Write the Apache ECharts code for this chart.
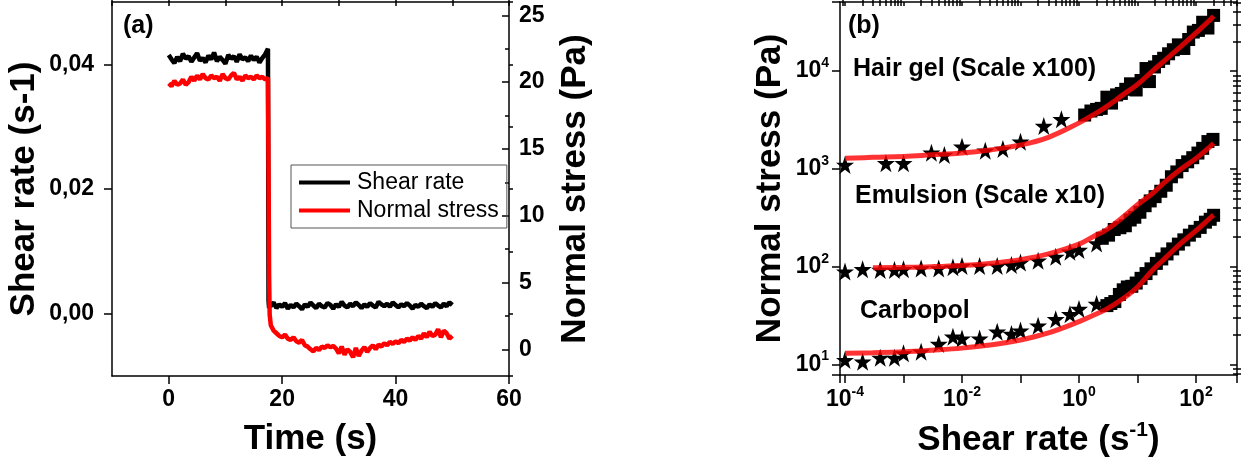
<!DOCTYPE html>
<html>
<head>
<meta charset="utf-8">
<script src="https://cdn.jsdelivr.net/npm/echarts@6/dist/echarts.min.js"></script>
<style>
  html, body { margin: 0; padding: 0; background: #fff; }
  #chart { width: 1256px; height: 473px; }
</style>
</head>
<body>
<div id="chart"></div>
<script>
// (a) 时间序列: 剪切速率 + 法向应力
var time = [0, 0.5, 1, 1.5, 2, 2.5, 3, 3.5, 4, 4.5, 5, 5.5, 6, 6.5, 7, 7.5, 8, 8.5, 9, 9.5, 10, 10.5, 11, 11.5, 12, 12.5, 13, 13.5, 14, 14.5, 15, 15.5, 16, 16.5, 17, 17.5,
  17.6, 17.7, 17.8,
  18, 18.5, 19, 19.5, 20, 20.5, 21, 21.5, 22, 22.5, 23, 23.5, 24, 24.5, 25, 25.5, 26, 26.5, 27, 27.5, 28, 28.5, 29, 29.5, 30, 30.5, 31, 31.5, 32, 32.5,
  33, 33.5, 34, 34.5, 35, 35.5, 36, 36.5, 37, 37.5, 38, 38.5, 39, 39.5, 40, 40.5, 41, 41.5, 42, 42.5, 43, 43.5, 44, 44.5, 45, 45.5, 46, 46.5, 47, 47.5,
  48, 48.5, 49, 49.5, 50]
var shearRate = [0.0415, 0.0408, 0.0402, 0.0412, 0.0405, 0.0417, 0.0409, 0.0413, 0.0404, 0.0411, 0.0418, 0.0406, 0.0410, 0.0403, 0.0414, 0.0408, 0.0419, 0.0405,
  0.0412, 0.0407, 0.0401, 0.0415, 0.0409, 0.0413, 0.0404, 0.0416, 0.0408, 0.0411, 0.0405, 0.0414, 0.0407, 0.0412, 0.0403, 0.0410, 0.0416, 0.0425,
  0.0021, 0.0009, 0.0016,
  0.0012, 0.0018, 0.0009, 0.0015, 0.0011, 0.0017, 0.0008, 0.0014, 0.0010, 0.0016,
  0.0012, 0.0007, 0.0015, 0.0011, 0.0018, 0.0013, 0.0009, 0.0016, 0.0012, 0.0010,
  0.0017, 0.0014, 0.0008, 0.0015, 0.0011, 0.0019, 0.0013, 0.0010, 0.0016, 0.0012,
  0.0018, 0.0014, 0.0009, 0.0015, 0.0011, 0.0017, 0.0013, 0.0010, 0.0019, 0.0015,
  0.0012, 0.0016, 0.0011, 0.0018, 0.0014, 0.0010, 0.0015, 0.0012, 0.0017, 0.0013,
  0.0008, 0.0014, 0.0011, 0.0016, 0.0012, 0.0009, 0.0015, 0.0011, 0.0017, 0.0013,
  0.0010, 0.0016, 0.0012, 0.0018, 0.0014]
var normalStress = [19.9, 19.7, 20.1, 19.8, 19.9, 20.2, 19.8, 20.0, 20.4, 20.1, 20.5, 20.2, 20.6, 20.3, 20.2, 20.5, 20.3, 20.4,
  20.1, 20.6, 20.3, 20.2, 20.5, 20.7, 20.2, 20.4, 20.1, 20.5, 20.3, 20.4, 20.2, 20.5, 20.3, 20.4, 20.2, 20.3,
  13.5, 5.5, 2.6,
  1.8, 1.4, 1.2, 1.0, 0.9, 1.1, 0.8, 0.7, 0.9, 0.6,
  0.5, 0.7, 0.3, 0.2, 0.0, -0.15, 0.1, -0.05, 0.2, 0.1,
  0.3, 0.15, 0.25, 0.05, -0.3, 0.2, -0.4, 0.0, -0.2, -0.6,
  0.1, -0.5, -0.1, 0.15, -0.2, 0.1, 0.3, 0.0, 0.35, 0.2,
  0.45, 0.3, 0.55, 0.4, 0.6, 0.45, 0.7, 0.55, 0.8, 0.65,
  0.9, 0.7, 1.0, 0.8, 1.2, 0.9, 1.3, 1.0, 1.1, 1.5,
  0.9, 1.4, 1.2, 0.8, 1.0]

// (b) 流动曲线: 星号(低剪切) 方块(高剪切) 红线(拟合)
var starRate = [1e-4, 2e-4, 4e-4, 7e-4, 1e-3, 2e-3, 4e-3, 7e-3, 1e-2, 2e-2, 4e-2, 7e-2, 0.1, 0.2, 0.4, 0.7, 1, 2]
var carbopolStar = [11.1, 10.7, 11.7, 11.7, 13.0, 13.5, 16.2, 19.2, 18.4, 18.4, 21.6, 20.5, 22.2, 24.9, 29.0, 32.6, 36.9, 41.5]
var emulsionStar = [89, 94, 92.5, 92.5, 94, 96, 96, 98.5, 101.5, 101.5, 101.5, 104, 110, 115, 126, 142, 148, 173]
var hairGelStarRate = [1e-4, 5e-4, 1e-3, 3e-3, 5e-3, 1e-2, 2.5e-2, 5e-2, 0.1, 0.25, 0.5]
var hairGelStar = [1095, 1140, 1140, 1460, 1385, 1680, 1530, 1595, 1890, 2740, 3210]

var carbopolSqRate = [3.0, 3.5, 4.1, 4.9, 5.7, 6.7, 8, 9.5, 11.5, 14, 17, 21, 26, 32, 40, 50, 62, 77, 95, 118, 145, 175, 200]
var carbopolSq = [40, 42, 44, 52, 58, 62, 63, 68, 76, 85, 95, 108, 120, 135, 152, 170, 188, 210, 230, 252, 285, 305, 335]
var emulsionSqRate = [2.5, 3.2, 4.0, 5.0, 6.2, 7.5, 9, 11, 13.5, 16.5, 20, 25, 31, 38, 47, 58, 72, 88, 108, 130, 160, 195]
var emulsionSq = [195, 210, 240, 250, 262, 300, 320, 360, 420, 470, 520, 590, 680, 830, 930, 1080, 1180, 1300, 1450, 1620, 1900, 2000]
var hairGelSqRate = [1.25, 1.6, 2.0, 2.4, 3.0, 3.6, 4.4, 5.3, 6.3, 7.6, 9.5, 11.5, 14, 16, 19.5, 23, 28, 34, 41, 50, 62, 75, 90, 110, 130, 160, 200]
var hairGelSq = [3550, 3900, 4050, 4150, 5400, 4700, 5700, 5900, 6500, 7400, 6400, 8000, 10600, 7800, 11000, 12500, 13500, 15000, 16500, 18500, 17000, 21000, 25000, 26000, 31500, 27500, 37000]

var fitRate = [1e-4, 3e-4, 1e-3, 3e-3, 1e-2, 3e-2, 0.1, 0.3, 1, 1.8, 3, 5.6, 10, 18, 30, 56, 100, 180, 200]
var carbopolFit = [13.0, 13.2, 13.5, 14.0, 14.7, 15.8, 17.8, 21, 27.4, 32, 37, 47, 62, 92, 123, 175, 233, 320, 337]
var emulsionFit = [null, 97.5, 98.5, 100, 103, 108, 118, 135, 170, 205, 240, 320, 430, 560, 740, 1000, 1280, 1720, 1830]
var hairGelFit = [1280, 1310, 1340, 1390, 1450, 1560, 1750, 2100, 2950, 3600, 4350, 5700, 7300, 10000, 13000, 18000, 24500, 34000, 36500]

var FONT = '"Liberation Sans", Arial, sans-serif'
var STAR = 'path://M50,0L61.8,35.1L98.9,35.1L69.1,57.3L80.3,92.7L50,71L19.7,92.7L30.9,57.3L1.1,35.1L38.2,35.1Z'

function pairs(xs, ys) {
  var out = []
  xs.forEach(function (x, i) {
    if (ys[i] != null) out.push([x, ys[i]])
  })
  return out
}

// 对数轴的次刻度(2..9), 在 log10 空间里
function minorLog(lo, hi) {
  var v = []
  for (var d = Math.floor(lo) - 1; d <= Math.ceil(hi); d++) {
    for (var k = 2; k <= 9; k++) {
      var p = d + Math.log10(k)
      if (p > lo && p < hi) v.push(p)
    }
  }
  return v
}
function majorLog(lo, hi) {
  var v = []
  for (var d = Math.ceil(lo); d <= Math.floor(hi); d++) v.push(d)
  return v
}

function powLabel(v, evenOnly) {
  var l = Math.log10(v)
  var e = Math.round(l)
  if (Math.abs(l - e) > 1e-6) return ''
  if (evenOnly && e % 2 !== 0) return ''
  return '{b|10}{s|' + e + '}'
}

var line = { show: true, onZero: false, lineStyle: { color: '#000', width: 1.5 } }
var noLine = { show: false, onZero: false }
var noLabel = { show: false }
var noSplit = { show: false }
function tick(len, inside, values) {
  var t = { show: true, length: len, inside: !!inside, lineStyle: { color: '#000', width: 1.5 } }
  if (values) t.customValues = values
  return t
}
var labelText = { color: '#000', fontFamily: FONT, fontWeight: 'bold', fontSize: 23 }
var nameText = { color: '#000', fontFamily: FONT, fontWeight: 'bold', fontSize: 35 }
var powRich = {
  b: { fontFamily: FONT, fontWeight: 'bold', fontSize: 23, color: '#000', lineHeight: 30 },
  s: { fontFamily: FONT, fontWeight: 'bold', fontSize: 14, color: '#000', lineHeight: 15, verticalAlign: 'top' }
}

// 对数范围 (b)
var xLo = -4.0855, xHi = 2.701
var yLo = 0.8927, yHi = 4.7054

var chart = echarts.init(document.getElementById('chart'), null, { renderer: 'canvas' })

var option = {
  animation: false,
  backgroundColor: '#fff',
  grid: [
    { left: 112, top: 2, width: 397, height: 374 },
    { left: 840, top: 2, width: 397, height: 373 }
  ],
  legend: {
    data: [
      { name: 'Shear rate', icon: 'rect' },
      { name: 'Normal stress', icon: 'rect' }
    ],
    orient: 'vertical',
    left: 291,
    top: 165,
    itemWidth: 51,
    itemHeight: 4,
    itemGap: 5,
    padding: [6, 8, 6, 8],
    borderColor: '#555',
    borderWidth: 1,
    borderRadius: 0,
    textStyle: { color: '#000', fontFamily: FONT, fontSize: 23, padding: [0, 0, 0, 2] }
  },
  xAxis: [
    {
      gridIndex: 0, type: 'value', min: -10, max: 60, interval: 10,
      axisLine: line, axisTick: tick(8, false, [0, 20, 40, 60]), splitLine: noSplit,
      axisLabel: Object.assign({ customValues: [0, 20, 40, 60], margin: 12 }, labelText),
      name: 'Time (s)', nameLocation: 'middle', nameGap: 46, nameTextStyle: nameText
    },
    {
      gridIndex: 0, type: 'value', min: -10, max: 60, interval: 10,
      axisLine: noLine, axisTick: tick(4), axisLabel: noLabel, splitLine: noSplit
    },
    {
      gridIndex: 0, type: 'value', position: 'top', min: -10, max: 60, interval: 10,
      axisLine: line, axisTick: tick(4, true), axisLabel: noLabel, splitLine: noSplit
    },
    {
      gridIndex: 1, type: 'log', min: Math.pow(10, xLo), max: Math.pow(10, xHi),
      axisLine: line, axisTick: tick(8), splitLine: noSplit,
      axisLabel: { margin: 10, formatter: function (v) { return powLabel(v, true) }, rich: powRich },
      name: '{t|Shear rate (s}{u|-1}{t|)}', nameLocation: 'middle', nameGap: 45,
      nameTextStyle: {
        rich: {
          t: { color: '#000', fontFamily: FONT, fontWeight: 'bold', fontSize: 35, lineHeight: 40 },
          u: { color: '#000', fontFamily: FONT, fontWeight: 'bold', fontSize: 21, lineHeight: 24, verticalAlign: 'top' }
        }
      }
    },
    {
      gridIndex: 1, type: 'value', min: xLo, max: xHi,
      axisLine: noLine, axisTick: tick(4, false, minorLog(xLo, xHi)), axisLabel: noLabel, splitLine: noSplit
    },
    {
      gridIndex: 1, type: 'value', position: 'top', min: xLo, max: xHi,
      axisLine: line, axisTick: tick(4, true, minorLog(xLo, xHi).concat(majorLog(xLo, xHi))), axisLabel: noLabel, splitLine: noSplit
    }
  ],
  yAxis: [
    {
      gridIndex: 0, type: 'value', min: -0.01, max: 0.05, interval: 0.01,
      axisLine: line, axisTick: tick(8, false, [0, 0.02, 0.04]), splitLine: noSplit,
      axisLabel: Object.assign({
        customValues: [0, 0.02, 0.04], margin: 18,
        formatter: function (v) { return v.toFixed(2).replace('.', ',') }
      }, labelText),
      name: 'Shear rate (s-1)', nameLocation: 'middle', nameGap: 70, nameTextStyle: nameText
    },
    {
      gridIndex: 0, type: 'value', min: -0.01, max: 0.05, interval: 0.01,
      axisLine: noLine, axisTick: tick(4), axisLabel: noLabel, splitLine: noSplit
    },
    {
      gridIndex: 0, type: 'value', position: 'right', min: -2, max: 26,
      axisLine: line, axisTick: tick(7, true, [0, 5, 10, 15, 20, 25]), splitLine: noSplit,
      axisLabel: Object.assign({ customValues: [0, 5, 10, 15, 20, 25], margin: 10 }, labelText),
      name: 'Normal stress (Pa)', nameLocation: 'middle', nameGap: 49, nameRotate: 90, nameTextStyle: nameText
    },
    {
      gridIndex: 0, type: 'value', position: 'right', min: -2, max: 26,
      axisLine: noLine, axisTick: tick(4, true, [2.5, 7.5, 12.5, 17.5, 22.5]), axisLabel: noLabel, splitLine: noSplit
    },
    {
      gridIndex: 1, type: 'log', min: Math.pow(10, yLo), max: Math.pow(10, yHi),
      axisLine: line, axisTick: tick(8), splitLine: noSplit,
      axisLabel: { margin: 11, formatter: function (v) { return powLabel(v, false) }, rich: powRich },
      name: 'Normal stress (Pa)', nameLocation: 'middle', nameGap: 52, nameTextStyle: nameText
    },
    {
      gridIndex: 1, type: 'value', min: yLo, max: yHi,
      axisLine: noLine, axisTick: tick(4, false, minorLog(yLo, yHi)), axisLabel: noLabel, splitLine: noSplit
    },
    {
      gridIndex: 1, type: 'value', position: 'right', min: yLo, max: yHi,
      axisLine: line, axisTick: tick(7, true, majorLog(yLo, yHi)), axisLabel: noLabel, splitLine: noSplit
    },
    {
      gridIndex: 1, type: 'value', position: 'right', min: yLo, max: yHi,
      axisLine: noLine, axisTick: tick(4, true, minorLog(yLo, yHi)), axisLabel: noLabel, splitLine: noSplit
    }
  ],
  graphic: [
    { type: 'text', left: 123, top: 14, style: { text: '(a)', font: 'bold 25px ' + FONT, fill: '#000' } },
    { type: 'text', left: 848, top: 14, style: { text: '(b)', font: 'bold 25px ' + FONT, fill: '#000' } },
    { type: 'text', left: 853, top: 57, style: { text: 'Hair gel (Scale x100)', font: 'bold 25px ' + FONT, fill: '#000' } },
    { type: 'text', left: 855, top: 184, style: { text: 'Emulsion (Scale x10)', font: 'bold 25px ' + FONT, fill: '#000' } },
    { type: 'text', left: 860, top: 299, style: { text: 'Carbopol', font: 'bold 25px ' + FONT, fill: '#000' } }
  ],
  series: [
    {
      name: 'Shear rate', type: 'line', xAxisIndex: 0, yAxisIndex: 0,
      symbol: 'none', lineStyle: { color: '#000', width: 4.5 }, itemStyle: { color: '#000' },
      data: pairs(time, shearRate)
    },
    {
      name: 'Normal stress', type: 'line', xAxisIndex: 0, yAxisIndex: 2,
      symbol: 'none', lineStyle: { color: '#ff0000', width: 4.5 }, itemStyle: { color: '#ff0000' },
      data: pairs(time, normalStress)
    },
    { name: 'Carbopol star', type: 'scatter', xAxisIndex: 3, yAxisIndex: 4, symbol: STAR, symbolSize: 18, itemStyle: { color: '#000', opacity: 1 }, data: pairs(starRate, carbopolStar) },
    { name: 'Emulsion star', type: 'scatter', xAxisIndex: 3, yAxisIndex: 4, symbol: STAR, symbolSize: 18, itemStyle: { color: '#000', opacity: 1 }, data: pairs(starRate, emulsionStar) },
    { name: 'Hair gel star', type: 'scatter', xAxisIndex: 3, yAxisIndex: 4, symbol: STAR, symbolSize: 18, itemStyle: { color: '#000', opacity: 1 }, data: pairs(hairGelStarRate, hairGelStar) },
    { name: 'Carbopol square', type: 'scatter', xAxisIndex: 3, yAxisIndex: 4, symbol: 'rect', symbolSize: 13, itemStyle: { color: '#000', opacity: 1 }, data: pairs(carbopolSqRate, carbopolSq) },
    { name: 'Emulsion square', type: 'scatter', xAxisIndex: 3, yAxisIndex: 4, symbol: 'rect', symbolSize: 13, itemStyle: { color: '#000', opacity: 1 }, data: pairs(emulsionSqRate, emulsionSq) },
    { name: 'Hair gel square', type: 'scatter', xAxisIndex: 3, yAxisIndex: 4, symbol: 'rect', symbolSize: 13, itemStyle: { color: '#000', opacity: 1 }, data: pairs(hairGelSqRate, hairGelSq) },
    { name: 'Carbopol fit', type: 'line', xAxisIndex: 3, yAxisIndex: 4, symbol: 'none', smooth: 0.4, lineStyle: { color: 'rgba(255,0,0,0.8)', width: 5 }, data: pairs(fitRate, carbopolFit) },
    { name: 'Emulsion fit', type: 'line', xAxisIndex: 3, yAxisIndex: 4, symbol: 'none', smooth: 0.4, lineStyle: { color: 'rgba(255,0,0,0.8)', width: 5 }, data: pairs(fitRate, emulsionFit) },
    { name: 'Hair gel fit', type: 'line', xAxisIndex: 3, yAxisIndex: 4, symbol: 'none', smooth: 0.4, lineStyle: { color: 'rgba(255,0,0,0.8)', width: 5 }, data: pairs(fitRate, hairGelFit) }
  ]
}
chart.setOption(option)
</script>
</body>
</html>
